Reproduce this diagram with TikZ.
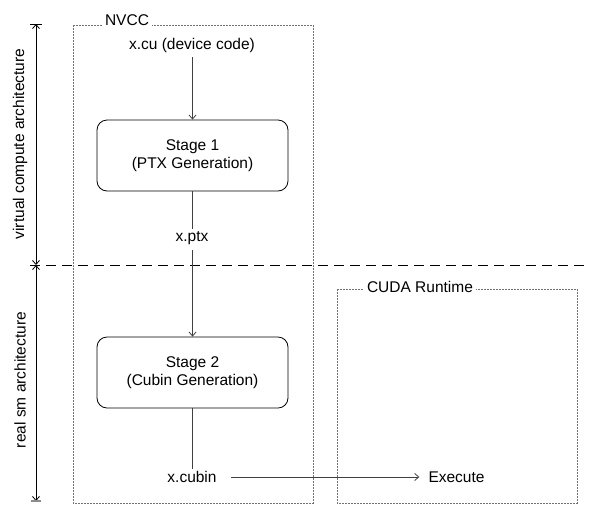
\documentclass[tikz,border=0pt]{standalone}
\usepackage{fontspec}
\setmainfont{Liberation Sans}
\usetikzlibrary{arrows.meta}
\tikzset{mybarb/.tip={Straight Barb[length=4pt,width=7pt]}}
\begin{document}
\begin{tikzpicture}[x=1pt,y=-1pt,
  every node/.style={font=\fontsize{15.5}{18}\selectfont, inner sep=2pt},
  stagebox/.style={draw=black, line width=0.8pt, rounded corners=10pt, minimum width=191pt, minimum height=71pt, align=center},
  groupbox/.style={draw=black!55, line width=1pt, dash pattern=on 2pt off 1pt},
  grouplabel/.style={fill=white, inner sep=3pt},
  conn/.style={line width=0.8pt, draw=black!75},
  arr/.style={conn, -{mybarb}},
  axis/.style={line width=0.8pt, draw=black}
]
\useasboundingbox (0,0) rectangle (601,528);
% group boxes
\draw[groupbox] (73,25) rectangle (313,503);
\draw[groupbox] (337,289) rectangle (577,503);
\node[grouplabel] (nvcc) at (127,20) {NVCC};
\node[grouplabel] (cuda) at (420,287) {CUDA Runtime};
% separator
\draw[line width=0.8pt, dash pattern=on 10pt off 6pt] (30,265) -- (586,265);
% axis
\coordinate (atop) at (36,24);
\coordinate (amid) at (36,265);
\coordinate (abot) at (36,501);
\draw[axis, {mybarb}-{mybarb}] (amid) -- (atop);
\draw[axis, {mybarb}-{mybarb}] (amid) -- (abot);
\draw[line width=0.8pt] (30,24) -- (42,24);
\draw[line width=1.5pt, draw=black!45] (31,501) -- (41,501);
\node[rotate=90] (vlab) at (20,144) {virtual compute architecture};
\node[rotate=90] (rlab) at (20,380) {real sm architecture};
% flow
\node (xcu) at (192,45) {x.cu (device code)};
\node[stagebox] (s1) at (192.5,155.5) {Stage 1\\(PTX Generation)};
\node (xptx) at (192,238) {x.ptx};
\node[stagebox] (s2) at (192.5,372.5) {Stage 2\\(Cubin Generation)};
\node (xcubin) at (192,477) {x.cubin};
\node (exec) at (456.5,477) {Execute};
\draw[arr] (xcu.south -| s1.north) ++(0,3) -- (s1.north);
\draw[conn] (s1.south) -- (xptx.north -| s1.south);
\draw[arr] (xptx.south -| s1.south) ++(0,3) -- (s2.north);
\draw[conn] (s2.south) -- (xcubin.north -| s2.south);
\draw[arr] ([xshift=12pt]xcubin.east) -- ([xshift=-7pt]exec.west);
\end{tikzpicture}
\end{document}
